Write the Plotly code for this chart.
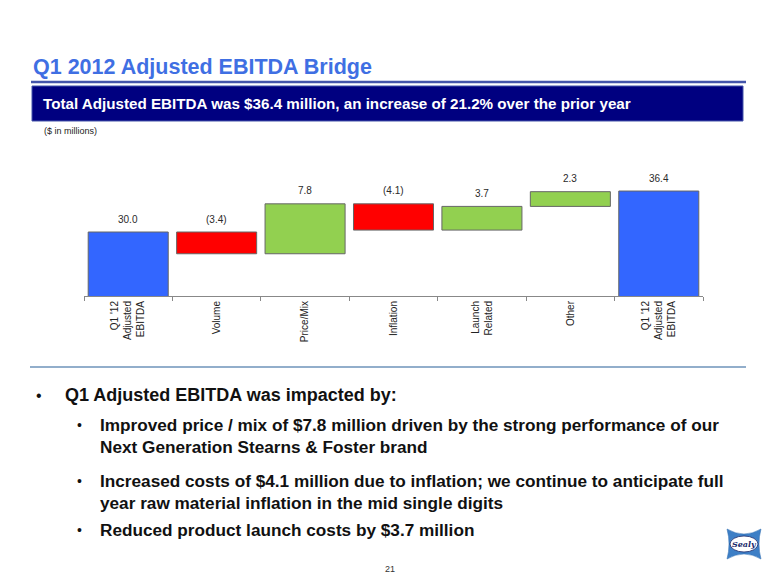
import plotly.graph_objects as go

# ---- data ----
categories = ["Q1 '12<br>Adjusted<br>EBITDA", "Volume", "Price/Mix", "Inflation",
              "Launch<br>Related", "Other", "Q1 '12<br>Adjusted<br>EBITDA\u200b"]
start_value = 30.0
deltas = [-3.4, 7.8, -4.1, 3.7, 2.3]
end_value = 36.4
bullet_main = "Q1 Adjusted EBITDA was impacted by:"
sub_bullets = [
    ["Improved price / mix of $7.8 million driven by the strong performance of our",
     "Next Generation Stearns & Foster brand"],
    ["Increased costs of $4.1 million due to inflation; we continue to anticipate full",
     "year raw material inflation in the mid single digits"],
    ["Reduced product launch costs by $3.7 million"],
]

W, H = 780, 585
FONT = "Liberation Sans, Arial, sans-serif"
BLUE, RED, GREEN = "#3366FF", "#FF0000", "#92D050"

# build bases / heights from data
bases, heights, colors, labels, tops = [], [], [], [], []
bases.append(0); heights.append(start_value); colors.append(BLUE)
labels.append(f"{start_value:.1f}"); tops.append(start_value)
run = start_value
for d in deltas:
    new = run + d
    lo, hi = min(run, new), max(run, new)
    bases.append(lo); heights.append(hi - lo)
    colors.append(GREEN if d > 0 else RED)
    labels.append(f"{d:.1f}" if d > 0 else f"({abs(d):.1f})")
    tops.append(hi)
    run = new
bases.append(0); heights.append(end_value); colors.append(BLUE)
labels.append(f"{end_value:.1f}"); tops.append(end_value)


def px(x):
    return x / W


def py(y):
    return 1 - y / H


fig = go.Figure()
fig.add_trace(go.Bar(
    x=categories, y=heights, base=bases,
    marker=dict(color=colors, line=dict(color="#666666", width=1)),
    width=0.905, hoverinfo="skip", cliponaxis=True,
))

annotations = []
for c, t, lab in zip(categories, tops, labels):
    annotations.append(dict(x=c, y=t, xref="x", yref="y", text=lab, showarrow=False,
                            yanchor="middle", yshift=13,
                            font=dict(family=FONT, size=10, color="#2A2A2A")))

# page texts
annotations.append(dict(x=px(31), y=py(67), xref="paper", yref="paper",
                        text="<b>Q1 2012 Adjusted EBITDA Bridge</b>", showarrow=False,
                        xanchor="left", yanchor="middle",
                        font=dict(family=FONT, size=21.5, color="#3F6FE3")))
annotations.append(dict(x=px(41), y=py(103), xref="paper", yref="paper",
                        text="<b>Total Adjusted EBITDA was $36.4 million, an increase of 21.2% over the prior year</b>",
                        showarrow=False, xanchor="left", yanchor="middle",
                        font=dict(family=FONT, size=15.2, color="white")))
annotations.append(dict(x=px(42), y=py(131), xref="paper", yref="paper",
                        text="($ in millions)", showarrow=False, xanchor="left", yanchor="middle",
                        font=dict(family=FONT, size=9, color="#222222")))

# bullets
annotations.append(dict(x=px(34), y=py(395), xref="paper", yref="paper", text="•", showarrow=False,
                        xanchor="left", yanchor="middle", font=dict(family=FONT, size=16, color="#111111")))
annotations.append(dict(x=px(63), y=py(395), xref="paper", yref="paper", text=f"<b>{bullet_main}</b>",
                        showarrow=False, xanchor="left", yanchor="middle",
                        font=dict(family=FONT, size=18, color="#111111")))
line_y = [[425, 447], [481, 503], [530]]
for lines, ys in zip(sub_bullets, line_y):
    annotations.append(dict(x=px(75), y=py(ys[0]), xref="paper", yref="paper", text="•", showarrow=False,
                            xanchor="left", yanchor="middle", font=dict(family=FONT, size=14, color="#111111")))
    for ln, yy in zip(lines, ys):
        annotations.append(dict(x=px(98), y=py(yy), xref="paper", yref="paper", text=f"<b>{ln}</b>",
                                showarrow=False, xanchor="left", yanchor="middle",
                                font=dict(family=FONT, size=17.2, color="#111111")))

annotations.append(dict(x=px(390), y=py(569), xref="paper", yref="paper", text="21", showarrow=False,
                        xanchor="center", yanchor="middle", font=dict(family=FONT, size=9, color="#333333")))
annotations.append(dict(x=px(744), y=py(544), xref="paper", yref="paper", text="<i><b>Sealy</b></i>",
                        showarrow=False, xanchor="center", yanchor="middle",
                        font=dict(family="DejaVu Serif, serif", size=8, color="#1B2A6B")))

shapes = [
    # title underline
    dict(type="line", xref="paper", yref="paper", x0=px(31), x1=px(746), y0=py(82), y1=py(82),
         line=dict(color="#4455AA", width=2.5)),
    # navy banner
    dict(type="rect", xref="paper", yref="paper", x0=px(32), x1=px(743), y0=py(121), y1=py(86),
         fillcolor="#000080", line=dict(color="#4455AA", width=1)),
    # separator
    dict(type="line", xref="paper", yref="paper", x0=px(30), x1=px(746), y0=py(367), y1=py(367),
         line=dict(color="#92AECB", width=2)),
    # logo bow
    dict(type="path", xref="paper", yref="paper",
         path=(f"M {px(727)},{py(529)} Q {px(744)},{py(539)} {px(761)},{py(529)} "
               f"Q {px(757)},{py(544)} {px(761)},{py(559)} Q {px(744)},{py(549)} {px(727)},{py(559)} "
               f"Q {px(731)},{py(544)} {px(727)},{py(529)} Z"),
         fillcolor="#3D7FC6", line=dict(color="#2F6CB0", width=0.5)),
    dict(type="circle", xref="paper", yref="paper", x0=px(730), x1=px(758), y0=py(536), y1=py(552),
         fillcolor="white", line=dict(color="#1B2A6B", width=0.8)),
]

fig.update_layout(
    width=W, height=H, autosize=False,
    margin=dict(l=0, r=0, t=0, b=0),
    paper_bgcolor="white", plot_bgcolor="white",
    showlegend=False, bargap=0.095,
    annotations=annotations, shapes=shapes,
    xaxis=dict(domain=[px(84), px(703)], type="category", tickson="boundaries",
               ticks="outside", ticklen=4, tickcolor="#888888", tickwidth=1,
               showline=True, linecolor="#888888", linewidth=1, showgrid=False,
               tickangle=-90, automargin=False, fixedrange=True,
               tickfont=dict(family=FONT, size=10, color="#222222")),
    yaxis=dict(domain=[py(296), py(168)], range=[20, 40], visible=False, showgrid=False,
               zeroline=False, automargin=False, fixedrange=True),
    font=dict(family=FONT),
)

fig.write_html("out.html", config={"displayModeBar": False},
               post_script="document.body.style.margin='0px';document.body.style.overflow='hidden';")
